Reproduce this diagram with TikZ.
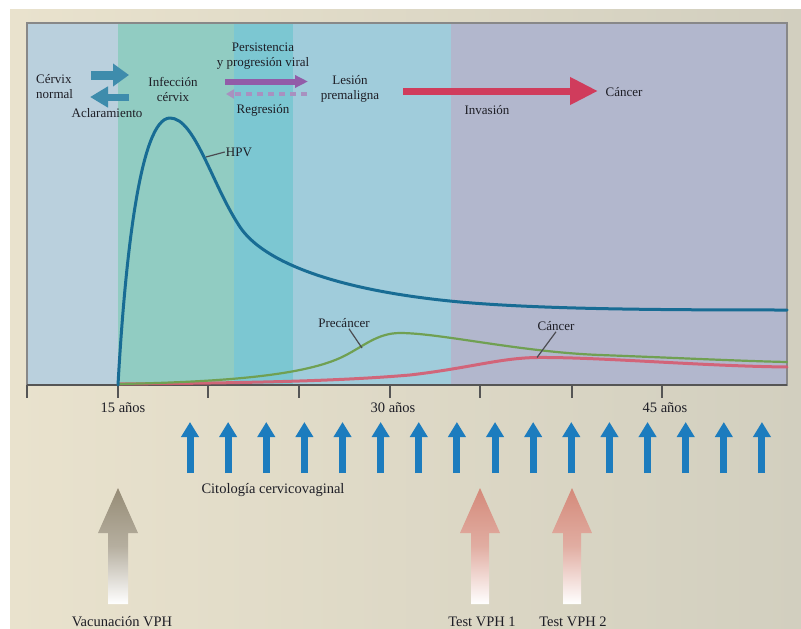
\documentclass[tikz,border=0pt]{standalone}
\usepackage{fontspec}
\setmainfont{Liberation Serif}
\usetikzlibrary{arrows.meta}

\definecolor{frameL}{RGB}{233,226,205}
\definecolor{frameR}{RGB}{210,207,191}
\definecolor{zoneA}{RGB}{186,208,221}
\definecolor{zoneB}{RGB}{145,204,194}
\definecolor{zoneC}{RGB}{124,199,210}
\definecolor{zoneD}{RGB}{160,204,219}
\definecolor{zoneE}{RGB}{178,183,205}
\definecolor{hpvc}{RGB}{24,108,148}
\definecolor{prec}{RGB}{112,160,82}
\definecolor{canc}{RGB}{214,92,112}
\definecolor{cyto}{RGB}{28,124,190}
\definecolor{clearc}{RGB}{62,140,172}
\definecolor{persc}{RGB}{146,92,168}
\definecolor{regc}{RGB}{168,145,192}
\definecolor{invc}{RGB}{208,60,92}
\definecolor{vacc}{RGB}{150,140,118}
\definecolor{testc}{RGB}{212,138,122}
\definecolor{txt}{RGB}{30,30,38}
\definecolor{axisc}{RGB}{85,85,85}

\begin{document}
\begin{tikzpicture}[x=1pt,y=-1pt,
  lbl/.style={font=\fontsize{13}{15}\selectfont, text=txt, inner sep=1pt, align=center},
  blbl/.style={font=\fontsize{14.5}{17}\selectfont, text=txt, inner sep=1pt, align=center},
  axisline/.style={draw=axisc, line width=1.4pt},
  leader/.style={draw=txt!80, line width=1.2pt},
  curve/.style={line width=#1, line cap=round, line join=round},
  cytoarrow/.style={draw=cyto, line width=7pt, -{Triangle[length=15pt,width=17pt]}},
  fatblue/.style={draw=clearc, line width=9pt, -{Triangle[length=16pt,width=22pt]}},
]
\useasboundingbox (0,0) rectangle (801,629);
\fill[white] (0,0) rectangle (801,629);

% outer beige panel
\shade[left color=frameL, right color=frameR] (10,9) rectangle (801,629);

% stage bands of the plot area
\fill[zoneA] (27,23) rectangle (118,385);
\fill[zoneB] (118,23) rectangle (234,385);
\fill[zoneC] (234,23) rectangle (293,385);
\fill[zoneD] (293,23) rectangle (451,385);
\fill[zoneE] (451,23) rectangle (787,385);
\draw[axisc!70, line width=1.2pt] (27,23) rectangle (787,385);

% time axis and ticks
\draw[axisline] (27,385) -- (787,385);
\foreach \x in {27,118,208,299,390,480,572,662}
  \draw[axisline] (\x,385) -- (\x,398);
\node[blbl] (t15) at (123,408) {15 años};
\node[blbl] (t30) at (393,408) {30 años};
\node[blbl] (t45) at (665,408) {45 años};

% curves
\draw[canc, curve=3pt, opacity=0.9]
  (118,384) .. controls (250,383) and (340,381) .. (410,375)
  .. controls (470,368) and (500,358) .. (537,357.5)
  .. controls (600,357) and (700,366) .. (787,367);
\draw[prec, curve=2.2pt]
  (118,384) .. controls (220,382) and (300,376) .. (340,358)
  .. controls (362,348) and (376,333) .. (400,333)
  .. controls (440,333) and (520,352) .. (600,355)
  .. controls (680,358) and (740,361) .. (787,362);
\draw[hpvc, curve=3pt]
  (118,385) .. controls (125,260) and (140,118) .. (170,118)
  .. controls (195,118) and (212,185) .. (240,227)
  .. controls (262,260) and (330,290) .. (460,302)
  .. controls (540,309) and (650,310) .. (787,310);

% curve labels
\node[lbl] (hpvlbl) at (239,152) {HPV};
\coordinate (hpvpt) at (206,157);
\draw[leader] (hpvlbl.west) -- (hpvpt);
\node[lbl] (prelbl) at (344,323) {Precáncer};
\coordinate (prept) at (362,348);
\draw[leader] ([xshift=5pt]prelbl.south) -- (prept);
\node[lbl] (canlbl) at (556,326) {Cáncer};
\coordinate (canpt) at (537,357.5);
\draw[leader] (canlbl.south) -- (canpt);

% natural history of the infection
\node[lbl, align=left, anchor=west] (normal) at (35,87) {Cérvix\\normal};
\node[lbl] (infec) at (173,89.5) {Infección\\cérvix};
\node[lbl] (aclar) at (107,113) {Aclaramiento};
\coordinate (ra) at (91,75);
\coordinate (rb) at (129,75);
\draw[fatblue] (ra) -- (rb);
\coordinate (la) at (129,97);
\coordinate (lb) at (90,97);
\draw[fatblue, line width=7pt, -{Triangle[length=18pt,width=20pt]}] (la) -- (lb);

\node[lbl] (pers) at (263,56.5) {Persistencia\\y progresión viral};
\node[lbl] (regr) at (263,110) {Regresión};
\node[lbl] (lesion) at (350,89) {Lesión\\premaligna};
\coordinate (pa) at (225,81.5);
\coordinate (pb) at (308,81.5);
\draw[persc, line width=6pt, -{Triangle[length=13pt,width=12pt]}] (pa) -- (pb);
\coordinate (da) at (307,94);
\coordinate (db) at (226,94);
\draw[regc, line width=3.5pt, dash pattern=on 6pt off 5pt, -{Triangle[length=8pt,width=9pt]}] (da) -- (db);

\node[lbl] (inv) at (487,110) {Invasión};
\node[lbl] (cancer) at (624,92) {Cáncer};
\coordinate (ia) at (403,91);
\coordinate (ib) at (598,91);
\draw[invc, line width=7pt, -{Triangle[length=28pt,width=26pt]}] (ia) -- (ib);

% screening by cytology
\foreach \i in {0,...,15}{
  \pgfmathsetmacro\xx{190+38.13*\i}
  \draw[cytoarrow] (\xx,473) -- (\xx,422);
}
\node[blbl] (cito) at (273,490) {Citología cervicovaginal};

% vaccination and HPV tests
\shade[top color=vacc, bottom color=white, middle color=vacc!70!white]
  (118,488) -- (138,533) -- (128,533) -- (128,604) -- (108,604) -- (108,533) -- (98,533) -- cycle;
\shade[top color=testc, bottom color=white, middle color=testc!70!white]
  (480,488) -- (500,533) -- (489,533) -- (489,604) -- (471,604) -- (471,533) -- (460,533) -- cycle;
\shade[top color=testc, bottom color=white, middle color=testc!70!white]
  (572,488) -- (592,533) -- (581,533) -- (581,604) -- (563,604) -- (563,533) -- (552,533) -- cycle;
\node[blbl] (vac) at (122,622) {Vacunación VPH};
\node[blbl] (test1) at (482,622) {Test VPH 1};
\node[blbl] (test2) at (573,622) {Test VPH 2};
\end{tikzpicture}
\end{document}
